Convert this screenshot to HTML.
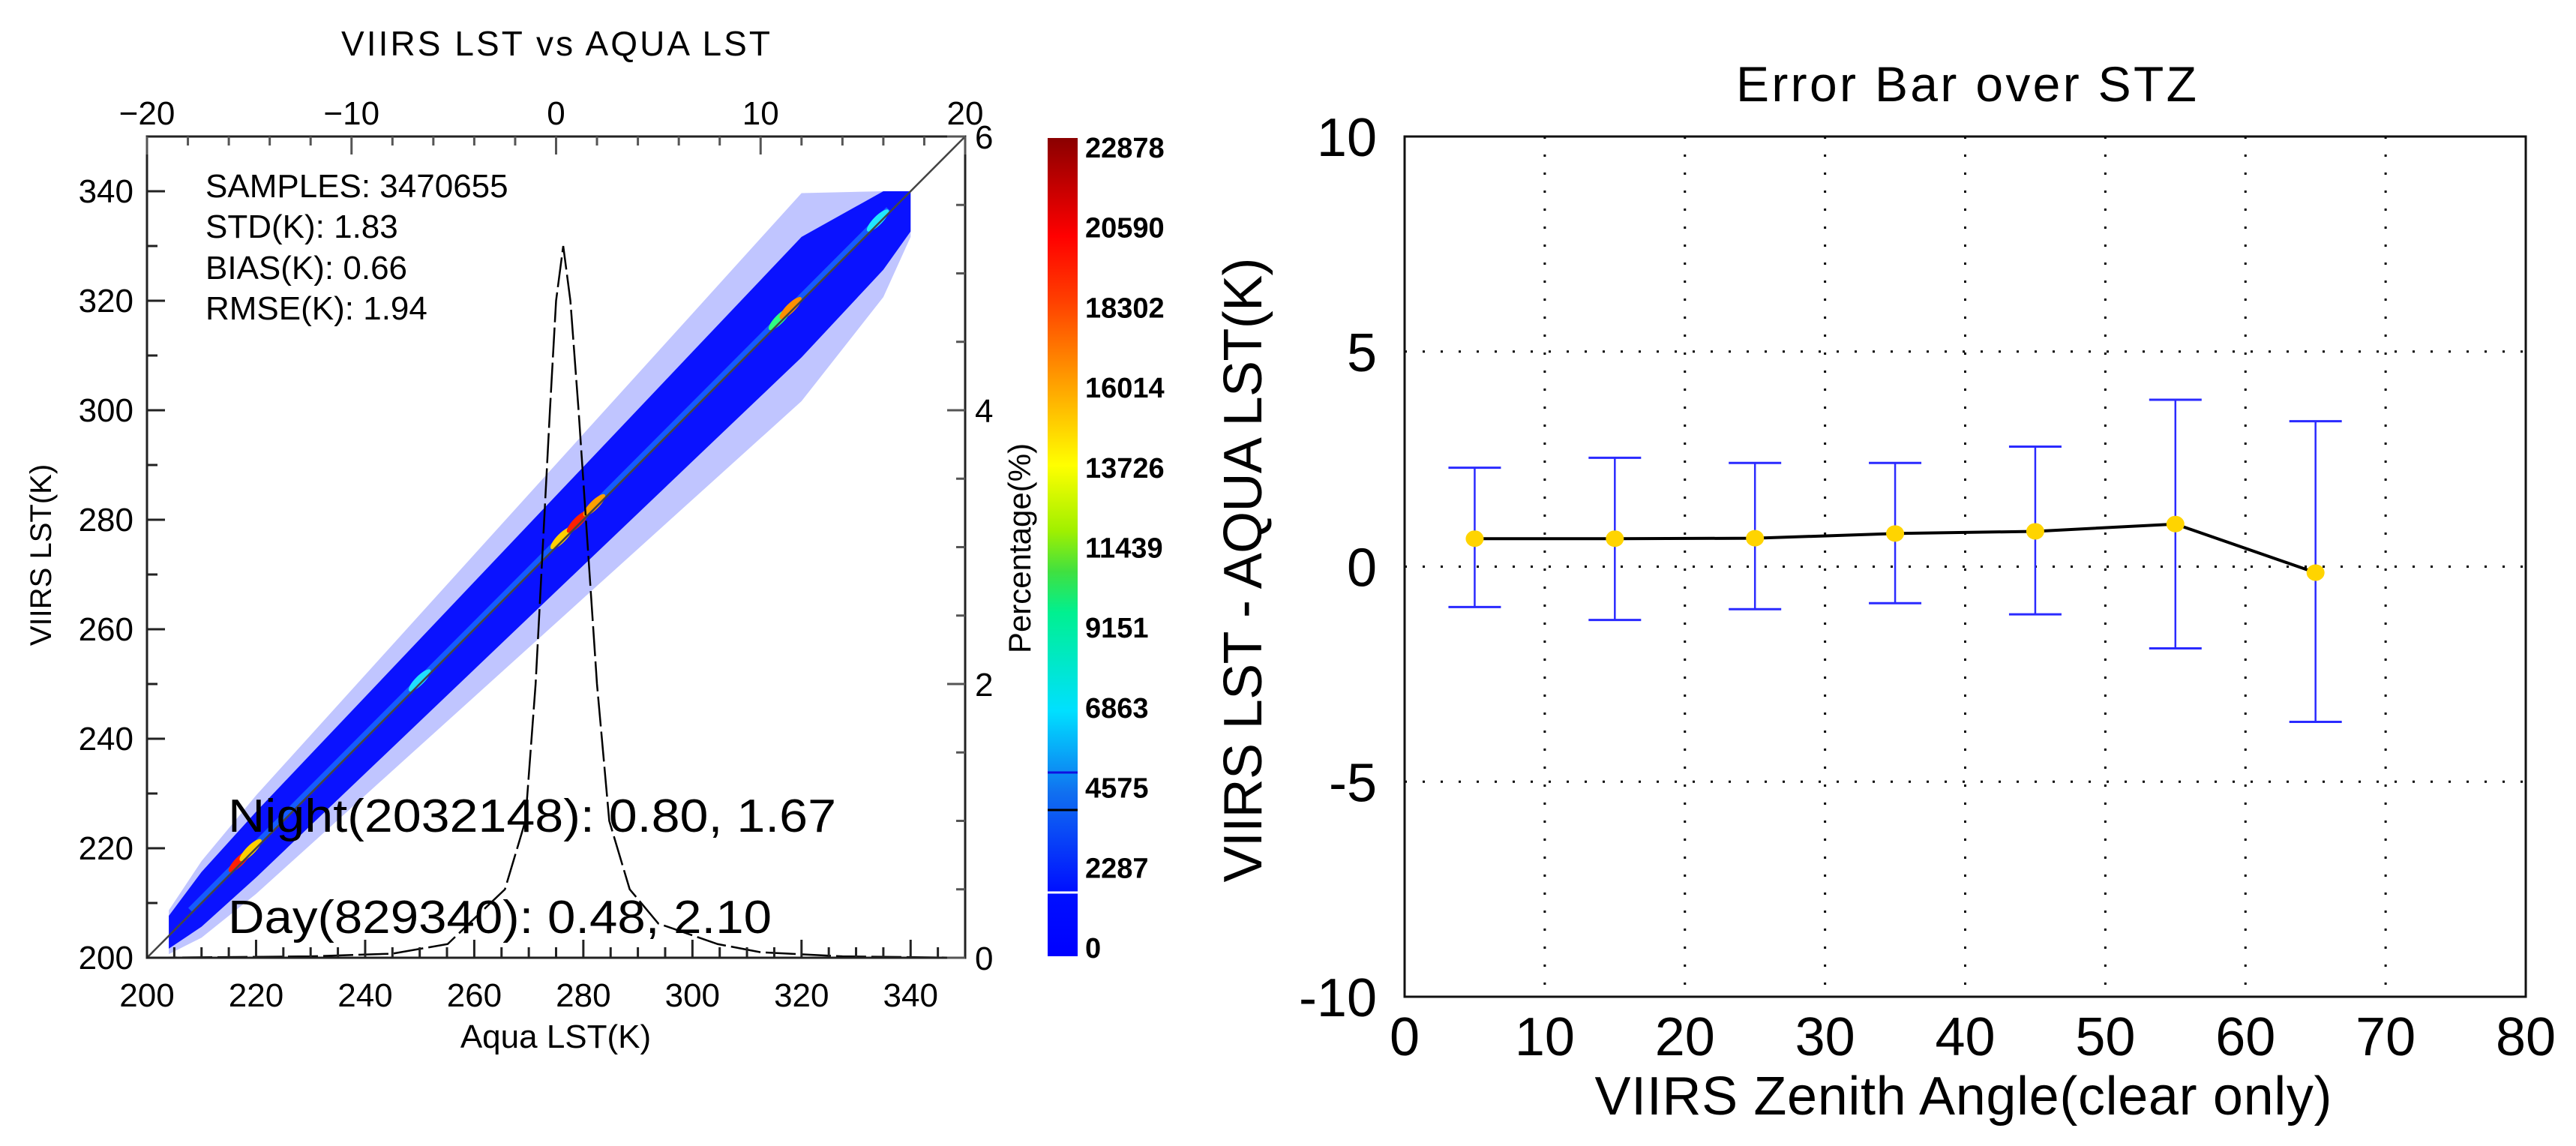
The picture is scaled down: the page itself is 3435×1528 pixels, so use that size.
<!DOCTYPE html>
<html><head><meta charset="utf-8"><style>
html,body{margin:0;padding:0;background:#fff;}
svg{display:block;font-family:"Liberation Sans",sans-serif;}
</style></head><body>
<svg id="fig" width="3435" height="1528" viewBox="0 0 3435 1528" xmlns="http://www.w3.org/2000/svg">
<defs>
<linearGradient id="cbar" x1="0" y1="1" x2="0" y2="0">
<stop offset="0" stop-color="#0000ff"/>
<stop offset="0.08" stop-color="#0010ff"/>
<stop offset="0.2" stop-color="#1070f0"/>
<stop offset="0.3" stop-color="#00e0ff"/>
<stop offset="0.42" stop-color="#00f090"/>
<stop offset="0.47" stop-color="#40e040"/>
<stop offset="0.52" stop-color="#a0f000"/>
<stop offset="0.6" stop-color="#ffff00"/>
<stop offset="0.7" stop-color="#ffa000"/>
<stop offset="0.8" stop-color="#ff4000"/>
<stop offset="0.88" stop-color="#ff0000"/>
<stop offset="1" stop-color="#8a0000"/>
</linearGradient>
<clipPath id="clipL"><rect x="196" y="182" width="1091" height="1095"/></clipPath>
</defs>
<g id="left"></g>
<g id="cb"></g>
<g id="right"></g>
</svg>
<script>
// ---------- Left chart data ----------
const bandX = [204, 210, 220, 240, 260, 280, 300, 320, 335, 340];
const coreHalf = [3, 5, 6, 7, 8, 9, 10, 11, 10, 8];
const haloHalf = [4, 7, 9, 11, 13, 15, 17, 19, 15, 9];
const biasK = 0.66;
const hotX = [217, 219, 250, 276, 279, 282, 316, 318, 334];
const hotColor = ['#ff2000', '#ffd000', '#20e0ff', '#ffd000', '#ff2000', '#ffa000', '#30ff80', '#ff9000', '#20e8ff'];
const histDiff = [-20, -12, -8, -5.3, -2.5, -1.5, -1.0, -0.3, 0.0, 0.35, 0.7, 1.1, 2.0, 2.6, 3.6, 5.0, 7.9, 10, 14, 20];
const histPct = [0, 0.01, 0.03, 0.1, 0.5, 1.0, 2.0, 4.0, 4.8, 5.2, 4.8, 4.0, 2.0, 1.0, 0.5, 0.25, 0.1, 0.04, 0.01, 0];
const xTicks = [200, 220, 240, 260, 280, 300, 320, 340];
const yTicks = [200, 220, 240, 260, 280, 300, 320, 340];
const topTicks = [-20, -10, 0, 10, 20];
const pctTicks = [0, 2, 4, 6];
const statLines = ['SAMPLES: 3470655', 'STD(K): 1.83', 'BIAS(K): 0.66', 'RMSE(K): 1.94'];
const cbLabels = ['0', '2287', '4575', '6863', '9151', '11439', '13726', '16014', '18302', '20590', '22878'];
// ---------- Right chart data ----------
const zenith = [5, 15, 25, 35, 45, 55, 65];
const meanDiff = [0.65, 0.65, 0.66, 0.77, 0.82, 0.99, -0.14];
const upperDiff = [2.30, 2.53, 2.41, 2.41, 2.79, 3.88, 3.38];
const lowerDiff = [-0.94, -1.24, -0.99, -0.85, -1.11, -1.90, -3.61];
const zTicks = [0, 10, 20, 30, 40, 50, 60, 70, 80];
const dTicks = [-10, -5, 0, 5, 10];

const NS = 'http://www.w3.org/2000/svg';
function mk(parent, tag, attrs, text) {
  const e = document.createElementNS(NS, tag);
  for (const k in attrs) e.setAttribute(k, attrs[k]);
  if (text !== undefined) e.textContent = text;
  parent.appendChild(e);
  return e;
}
// left axes
const L = {x0: 196, x1: 1287, y0: 1277, y1: 182};
const sx = v => L.x0 + (v - 200) * (L.x1 - L.x0) / 150;
const sy = v => L.y0 - (v - 200) * (L.y0 - L.y1) / 150;
const tx = d => L.x0 + (d + 20) * (L.x1 - L.x0) / 40;
const py = p => L.y0 - p * (L.y0 - L.y1) / 6;

const left = document.getElementById('left');
const plot = mk(left, 'g', {'clip-path': 'url(#clipL)'});



function bandPoly(half) {
  const up = [], lo = [];
  for (let i = 0; i < bandX.length; i++) {
    const x = bandX[i], c = x + biasK;
    up.push(sx(x) + ',' + sy(Math.min(340, c + half[i])));
    lo.push(sx(x) + ',' + sy(c - half[i]));
  }
  return up.concat(lo.reverse()).join(' ');
}
const halo = mk(plot, 'polygon', {points: bandPoly(haloHalf), fill: '#4a58ff', opacity: '0.35'});


const core = mk(plot, 'polygon', {points: bandPoly(coreHalf), fill: '#0a12ff'});


// clip at 340 box top/right
mk(plot, 'rect', {x: sx(340) + 1, y: L.y1, width: 200, height: 1095, fill: '#fff'});
mk(plot, 'rect', {x: L.x0, y: L.y1, width: 1091, height: sy(340) - L.y1 - 1, fill: '#fff'});
const streak = mk(plot, 'line', {x1: sx(bandX[0] + 4), y1: sy(bandX[0] + 4 + biasK), x2: sx(336), y2: sy(336 + biasK), stroke: '#1a7aff', 'stroke-width': 9, opacity: '0.7'});


hotX.forEach((x, i) => {
  const e = mk(plot, 'ellipse', {cx: sx(x), cy: sy(x + biasK), rx: 20, ry: 6, fill: hotColor[i],
    transform: 'rotate(-45 ' + sx(x) + ' ' + sy(x + biasK) + ')'});
  
  
});
// 1:1 line
const oneone = mk(left, 'line', {x1: sx(200), y1: sy(200), x2: sx(350), y2: sy(350), stroke: '#444', 'stroke-width': 2.5});


// histogram curve
const hp = histDiff.map((d, i) => tx(d) + ',' + py(histPct[i])).join(' ');
const hist = mk(left, 'polyline', {points: hp, fill: 'none', stroke: '#000', 'stroke-width': 2.5, 'stroke-dasharray': '40 7'});


// frame
const frame = mk(left, 'rect', {x: L.x0, y: L.y1, width: L.x1 - L.x0, height: L.y0 - L.y1, fill: 'none', stroke: '#222', 'stroke-width': 3});


// ticks
for (let v = 200; v <= 350; v += 5) {
  const len = v % 20 === 0 ? 24 : 14;
  mk(left, 'line', {x1: sx(v), y1: L.y0, x2: sx(v), y2: L.y0 - len, stroke: '#222', 'stroke-width': 3});
}
for (let v = 200; v <= 350; v += 10) {
  const len = v % 20 === 0 ? 24 : 14;
  mk(left, 'line', {x1: L.x0, y1: sy(v), x2: L.x0 + len, y2: sy(v), stroke: '#222', 'stroke-width': 3});
}
for (let d = -20; d <= 20; d += 2) {
  const len = d % 10 === 0 ? 24 : 12;
  mk(left, 'line', {x1: tx(d), y1: L.y1, x2: tx(d), y2: L.y1 + len, stroke: '#555', 'stroke-width': 3});
}
for (let p = 0; p <= 6; p += 0.5) {
  const len = p % 2 === 0 ? 24 : 12;
  mk(left, 'line', {x1: L.x1, y1: py(p), x2: L.x1 - len, y2: py(p), stroke: '#555', 'stroke-width': 3});
}
xTicks.forEach(v => {
  const t = mk(left, 'text', {x: sx(v), y: 1342, 'font-size': 44, 'text-anchor': 'middle'}, String(v));
  
  
});
yTicks.forEach(v => {
  const t = mk(left, 'text', {x: 178, y: sy(v) + 15, 'font-size': 44, 'text-anchor': 'end'}, String(v));
  
  
});
topTicks.forEach(v => {
  const t = mk(left, 'text', {x: tx(v), y: 166, 'font-size': 44, 'text-anchor': 'middle'}, v < 0 ? '\u2212' + (-v) : String(v));
  
  
});
pctTicks.forEach(v => {
  const t = mk(left, 'text', {x: 1300, y: py(v) + 16, 'font-size': 44}, String(v));
  
  
});
let t;
t = mk(left, 'text', {x: 741, y: 74, 'font-size': 46, 'text-anchor': 'middle', textLength: 572}, 'VIIRS  LST  vs  AQUA  LST');


t = mk(left, 'text', {x: 741, y: 1397, 'font-size': 44, 'text-anchor': 'middle'}, 'Aqua  LST(K)');


t = mk(left, 'text', {x: 0, y: 0, 'font-size': 40, 'text-anchor': 'middle', transform: 'translate(68,740) rotate(-90)'}, 'VIIRS  LST(K)');


t = mk(left, 'text', {x: 0, y: 0, 'font-size': 42, 'text-anchor': 'middle', transform: 'translate(1374,731) rotate(-90)'}, 'Percentage(%)');


const statY = [263, 317, 372, 426];
statLines.forEach((s, i) => {
  const e = mk(left, 'text', {x: 274, y: statY[i], 'font-size': 44}, s);
  
  
});
t = mk(left, 'text', {x: 304, y: 1109, 'font-size': 62, textLength: 811, lengthAdjust: 'spacingAndGlyphs', 'font-family': '"Liberation Sans Narrow","Liberation Sans",sans-serif'}, 'Night(2032148): 0.80, 1.67');


t = mk(left, 'text', {x: 304, y: 1244, 'font-size': 62, textLength: 725, lengthAdjust: 'spacingAndGlyphs', 'font-family': '"Liberation Sans Narrow","Liberation Sans",sans-serif'}, 'Day(829340): 0.48, 2.10');



// colorbar
const cb = document.getElementById('cb');
const CB = {x: 1397, w: 40, top: 184, bot: 1275};
mk(cb, 'rect', {x: CB.x, y: CB.top, width: CB.w, height: CB.bot - CB.top, fill: 'url(#cbar)'});
const cbY = i => CB.bot - 12 - i * (CB.bot - CB.top - 24) / (cbLabels.length - 1);
mk(cb, 'line', {x1: CB.x, x2: CB.x + CB.w, y1: 1190, y2: 1190, stroke: '#fff', 'stroke-width': 3});
mk(cb, 'line', {x1: CB.x, x2: CB.x + CB.w, y1: 1080, y2: 1080, stroke: '#000', 'stroke-width': 3});
mk(cb, 'line', {x1: CB.x, x2: CB.x + CB.w, y1: 1030, y2: 1030, stroke: '#1010e0', 'stroke-width': 3});
cbLabels.forEach((s, i) => {
  const e = mk(cb, 'text', {x: 1447, y: cbY(i) + 14, 'font-size': 38, 'font-weight': 'bold'}, s);
  
  
});

// ---------- Right chart ----------
const right = document.getElementById('right');
const R = {x0: 1873, x1: 3368, y0: 1329, y1: 182};
const rx = v => R.x0 + v * (R.x1 - R.x0) / 80;
const ry = v => R.y0 - (v + 10) * (R.y0 - R.y1) / 20;
for (let v = 10; v <= 70; v += 10) {
  const g = mk(right, 'line', {x1: rx(v), x2: rx(v), y1: R.y1, y2: R.y0, stroke: '#000', 'stroke-width': 3, 'stroke-dasharray': '3 21'});
  
  
}
[-5, 0, 5].forEach(v => {
  const g = mk(right, 'line', {x1: R.x0, x2: R.x1, y1: ry(v), y2: ry(v), stroke: '#000', 'stroke-width': 3, 'stroke-dasharray': '3 21'});
  
  
});
const rf = mk(right, 'rect', {x: R.x0, y: R.y1, width: R.x1 - R.x0, height: R.y0 - R.y1, fill: 'none', stroke: '#111', 'stroke-width': 3});


zenith.forEach((z, i) => {
  const g = mk(right, 'g', {});
  
  
  mk(g, 'line', {x1: rx(z), x2: rx(z), y1: ry(upperDiff[i]), y2: ry(lowerDiff[i]), stroke: '#2a2aff', 'stroke-width': 2.5});
  mk(g, 'line', {x1: rx(z) - 35, x2: rx(z) + 35, y1: ry(upperDiff[i]), y2: ry(upperDiff[i]), stroke: '#2a2aff', 'stroke-width': 3});
  mk(g, 'line', {x1: rx(z) - 35, x2: rx(z) + 35, y1: ry(lowerDiff[i]), y2: ry(lowerDiff[i]), stroke: '#2a2aff', 'stroke-width': 3});
});
const ml = mk(right, 'polyline', {points: zenith.map((z, i) => rx(z) + ',' + ry(meanDiff[i])).join(' '), fill: 'none', stroke: '#000', 'stroke-width': 4});


zenith.forEach((z, i) => {
  const c = mk(right, 'ellipse', {cx: rx(z), cy: ry(meanDiff[i]), rx: 12, ry: 11, fill: '#ffd400'});
  
  
});
zTicks.forEach(v => {
  const e = mk(right, 'text', {x: rx(v), y: 1407, 'font-size': 72, 'text-anchor': 'middle'}, String(v));
  
  
});
dTicks.forEach(v => {
  const e = mk(right, 'text', {x: 1836, y: ry(v) + 26, 'font-size': 72, 'text-anchor': 'end'}, String(v));
  
  
});
t = mk(right, 'text', {x: 2622, y: 135, 'font-size': 66, 'text-anchor': 'middle', textLength: 614}, 'Error Bar over STZ');


t = mk(right, 'text', {x: 2618, y: 1486, 'font-size': 72, 'text-anchor': 'middle', textLength: 983}, 'VIIRS Zenith Angle(clear only)');


t = mk(right, 'text', {x: 0, y: 0, 'font-size': 72, 'text-anchor': 'middle', textLength: 833, transform: 'translate(1682,760) rotate(-90)'}, 'VIIRS LST - AQUA LST(K)');


</script>
</body></html>
